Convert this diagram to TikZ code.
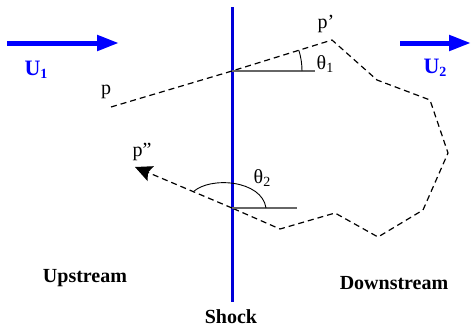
\documentclass[tikz,border=0pt]{standalone}
\usepackage{fontspec}
\setmainfont{Liberation Serif}
\usetikzlibrary{arrows.meta}
\newcommand{\lowidx}[1]{\raisebox{-0.35ex}{\fontsize{14}{14}\selectfont #1}}
\begin{document}
\begin{tikzpicture}[
  x=1pt, y=-1pt,
  every node/.style={inner sep=0pt, font=\fontsize{20}{24}\selectfont},
  flow/.style={-{Triangle[length=22pt,width=15pt]}, line width=5pt, blue},
  shock/.style={line width=3pt, blue!85!black},
  track/.style={dash pattern=on 6pt off 4pt, line width=1.2pt},
  ref/.style={line width=1.5pt, black!60},
  tag/.style={anchor=base, font=\fontsize{20}{24}\selectfont\bfseries}
]
\useasboundingbox (0,0) rectangle (471,327);
\coordinate (top) at (232,7);
\coordinate (bot) at (232,302);
\coordinate (u1a) at (7,43);
\coordinate (u1b) at (119,43);
\coordinate (u2a) at (400,43);
\coordinate (u2b) at (471,43);
\coordinate (p) at (111,107);
\coordinate (s1) at (232,71);
\coordinate (pp) at (332,40);
\coordinate (k1) at (377,80);
\coordinate (k2) at (430,100);
\coordinate (k3) at (448,153);
\coordinate (k4) at (423,210);
\coordinate (k5) at (378,237);
\coordinate (k6) at (335,213);
\coordinate (k7) at (280,229);
\coordinate (s2) at (232,208);
\coordinate (ppp) at (135,167);
\coordinate (r1) at (315,71);
\coordinate (r2) at (297,208);
\draw[shock] (top) -- (bot);
\draw[flow] (u1a) -- (u1b);
\draw[flow] (u2a) -- (u2b);
\draw[track] (p) -- (s1) -- (pp) -- (k1) -- (k2) -- (k3) -- (k4) -- (k5) -- (k6) -- (k7) -- (s2);
\draw[track, -{Stealth[length=17pt,width=16pt,inset=3pt]}] (s2) -- (ppp);
\draw[ref] (s1) -- (r1);
\draw[ref] (s2) -- (r2);
\draw[line width=0.9pt] ([xshift=70pt]s1) arc[start angle=0, end angle=17, radius=70pt];
\draw[line width=0.9pt] (266,208) .. controls (262,180) and (210,176) .. (193,192);
\node[text=blue, font=\fontsize{22}{24}\selectfont\bfseries] (lu1) at (36,70) {U\lowidx{1}};
\node[text=blue, font=\fontsize{22}{24}\selectfont\bfseries] (lu2) at (435,68) {U\lowidx{2}};
\node (lp) at (106,92) {p};
\node (lpp) at (326,24) {p'};
\node (lppp) at (142,152) {p''};
\node (lt1) at (325,64) {θ\lowidx{1}};
\node (lt2) at (262,178) {θ\lowidx{2}};
\node[tag] (up) at (85,282) {Upstream};
\node[tag] (down) at (394,289) {Downstream};
\node[tag] (sh) at (231,323) {Shock};
\end{tikzpicture}
\end{document}
